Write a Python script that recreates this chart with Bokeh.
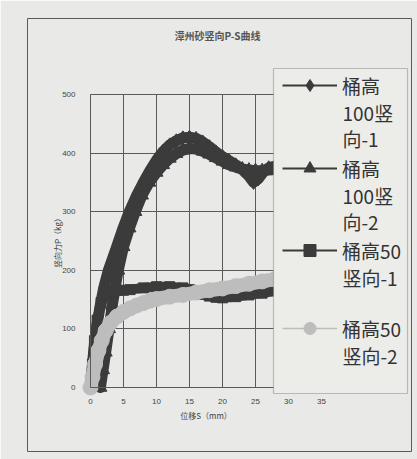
from bokeh.plotting import figure
from bokeh.models import (ColumnDataSource, Legend, LegendItem, Label,
                          BoxAnnotation, FixedTicker, Range1d)
from bokeh.embed import file_html
from bokeh.resources import INLINE

# ---------------- data ----------------
title_text = "漳州砂竖向P-S曲线"
x_label = "位移S（mm）"
y_label = "竖向力P（kg）"
x_ticks = [0, 5, 10, 15, 20, 25, 30, 35]
y_ticks = [0, 100, 200, 300, 400, 500]

s1_x = [0, 0.3, 0.6, 0.9, 1.4, 2.0, 2.7, 3.8, 4.8, 5.8, 7.0, 8.0, 9.0, 10.0, 11.0, 12.0,
        13.0, 14.0, 15.0, 16.0, 17.0, 18.0, 19.0, 20.0, 21.0, 22.0, 23.0, 24.0, 24.7,
        25.4, 26.2, 27.0, 28.0, 29.0]
s1_p = [0, 40, 75, 100, 135, 170, 200, 235, 268, 298, 328, 350, 370, 388, 403, 414,
        421, 426, 427, 425, 419, 411, 402, 394, 387, 380, 372, 361, 350,
        356, 368, 375, 378, 378]

s2_x = [1.5, 1.9, 2.3, 2.8, 3.3, 3.8, 4.2, 5.0, 5.9, 6.8, 7.8, 8.9, 10.0, 11.0, 12.0,
        13.0, 14.0, 15.0, 16.0, 17.0, 18.0, 19.0, 20.0, 21.0, 22.0, 23.0, 24.0, 25.0,
        26.0, 27.0, 28.0, 29.0]
s2_p = [0, 30, 60, 100, 140, 175, 200, 240, 272, 300, 328, 350, 367, 380, 391,
        399, 405, 408, 407, 403, 398, 392, 386, 380, 376, 373, 371, 370,
        370, 371, 372, 372]

s3_x = [0, 0.3, 0.6, 1.0, 1.6, 2.4, 3.5, 5.0, 6.0, 8.0, 10.0, 12.0, 14.0, 15.0, 16.0,
        17.0, 18.0, 19.0, 20.0, 22.0, 24.0, 26.0, 28.0, 29.0]
s3_p = [0, 40, 80, 115, 145, 158, 163, 166, 167, 170, 172, 172, 170, 167, 163,
        159, 156, 154, 153, 155, 158, 161, 165, 166]

s4_x = [0, 0.3, 0.7, 1.2, 1.7, 2.3, 3.0, 4.0, 5.0, 6.0, 7.0, 8.0, 9.0, 10.0, 12.0,
        14.0, 16.0, 18.0, 20.0, 22.0, 24.0, 26.0, 28.0, 29.0]
s4_p = [0, 18, 40, 63, 80, 97, 110, 121, 129, 135, 140, 144, 148, 151, 155,
        158, 162, 166, 169, 173, 177, 181, 185, 187]

legend_lines = [["桶高", "100竖", "向-1"],
                ["桶高", "100竖", "向-2"],
                ["桶高50", "竖向-1"],
                ["桶高50", "竖向-2"]]

# ---------------- styling / geometry ----------------
BG = "#e9e9e7"
DARK = "#3b3b3b"
LIGHT = "#bdbdbd"
GRID = "#5a5a5a"
TXT = "#444444"
CJK = "Noto Sans CJK SC"

W, H = 417, 459
# chart border (= frame) in page px
CL, CT, CR, CB = 27, 18, 411, 451
# plot area in page px: x=0 at 90, x=35 at 321; y=0 at 387, y=500 at 94
X0P, XPU = 90, (321 - 90) / 35.0
Y0P, YPU = 387, (387 - 94) / 500.0

x_lo, x_hi = (CL - X0P) / XPU, (CR - X0P) / XPU
y_lo, y_hi = (Y0P - CB) / YPU, (Y0P - CT) / YPU

def sx(page_x):
    return page_x - CL
def sy(page_y):
    return CB - page_y

p = figure(width=W, height=H, output_backend="svg", toolbar_location=None,
           x_range=Range1d(x_lo, x_hi), y_range=Range1d(y_lo, y_hi),
           min_border_left=CL, min_border_top=CT,
           min_border_right=W - CR, min_border_bottom=H - CB)
p.background_fill_color = BG
p.border_fill_color = BG
p.outline_line_color = GRID
p.outline_line_width = 1

p.xaxis.fixed_location = 0
p.yaxis.fixed_location = 0
p.xaxis.bounds = (0, 35)
p.yaxis.bounds = (0, 500)
for ax in (p.xaxis[0], p.yaxis[0]):
    ax.axis_line_color = GRID
    ax.axis_line_width = 1
    ax.major_tick_line_color = None
    ax.minor_tick_line_color = None
    ax.major_label_text_font = "Liberation Sans"
    ax.major_label_text_font_size = "8px"
    ax.major_label_text_color = TXT
    ax.axis_label_text_font = CJK
    ax.axis_label_text_font_size = "8px"
    ax.axis_label_text_font_style = "normal"
    ax.axis_label_text_color = TXT

p.xaxis.ticker = FixedTicker(ticks=x_ticks)
p.yaxis.ticker = FixedTicker(ticks=y_ticks)
p.xaxis.axis_label = x_label
p.yaxis.axis_label = y_label
p.xaxis.major_label_standoff = 5
p.yaxis.major_label_standoff = 9
p.xaxis.axis_label_standoff = 3
p.yaxis.axis_label_standoff = -4

p.xgrid.ticker = FixedTicker(ticks=x_ticks)
p.ygrid.ticker = FixedTicker(ticks=y_ticks)
grid_ok = True
try:
    p.xgrid[0].bounds = (0, 35)
    p.xgrid[0].cross_bounds = (0, 500)
    p.ygrid[0].bounds = (0, 500)
    p.ygrid[0].cross_bounds = (0, 35)
except Exception:
    grid_ok = False
for g in (p.xgrid[0], p.ygrid[0]):
    g.grid_line_color = GRID if grid_ok else None
    g.grid_line_width = 1
if not grid_ok:
    p.segment(x0=x_ticks, x1=x_ticks, y0=[0] * len(x_ticks), y1=[500] * len(x_ticks),
              line_color=GRID, line_width=1, level="underlay")
    p.segment(x0=[0] * len(y_ticks), x1=[35] * len(y_ticks), y0=y_ticks, y1=y_ticks,
              line_color=GRID, line_width=1, level="underlay")

# ---------------- series ----------------
series = [
    (s1_x, s1_p, DARK, "diamond", 14, 11, 2.0),
    (s2_x, s2_p, DARK, "triangle", 13, 11, 2.0),
    (s3_x, s3_p, DARK, "square", 10, 10, 2.0),
    (s4_x, s4_p, LIGHT, "circle", 15, 14, 1.5),
]
legend_proxies = []
for xs, ps, col, mk, msize, lw, leg_lw in series:
    src = ColumnDataSource(dict(x=xs, y=ps))
    p.line("x", "y", source=src, line_color=col, line_width=lw,
           line_join="round", line_cap="round")
    p.scatter("x", "y", source=src, marker=mk, size=msize,
              fill_color=col, line_color=col)
    # thin proxies (not drawn in the plot) used only for the legend samples
    r_l = p.line("x", "y", source=src, line_color=col, line_width=leg_lw, visible=False)
    r_m = p.scatter("x", "y", source=src, marker=mk, fill_color=col, line_color=col,
                    visible=False)
    legend_proxies.append([r_l, r_m])

# ---------------- legend ----------------
p.add_layout(BoxAnnotation(left=sx(273), right=sx(407), top=sy(68), bottom=sy(393),
                           left_units="screen", right_units="screen",
                           top_units="screen", bottom_units="screen",
                           fill_color="#ecece9", fill_alpha=1,
                           line_color="#444444", line_width=1.2))

glyph_y = [85, 168, 250, 328]
line_step = 26.5
for i, lines in enumerate(legend_lines):
    lg = Legend(items=[LegendItem(label=lines[0], renderers=legend_proxies[i])],
                location=(sx(282), sy(glyph_y[i] + 15)),
                padding=0, margin=0, spacing=0,
                glyph_width=55, glyph_height=30, label_standoff=5,
                label_text_font=CJK, label_text_font_size="19px",
                label_text_color="#333333",
                background_fill_alpha=0, border_line_alpha=0)
    p.add_layout(lg)
    for j, t in enumerate(lines[1:], start=1):
        p.add_layout(Label(x=sx(342), y=sy(glyph_y[i] + j * line_step), text=t,
                           x_units="screen", y_units="screen",
                           text_font=CJK, text_font_size="19px",
                           text_color="#333333", text_baseline="middle",
                           text_align="left"))

p.add_layout(Label(x=sx(217), y=sy(35), text=title_text,
                   x_units="screen", y_units="screen",
                   text_font=CJK, text_font_size="10px", text_font_style="bold",
                   text_color="#555555", text_align="center", text_baseline="middle"))

open("out.html", "w").write(file_html(p, INLINE))
